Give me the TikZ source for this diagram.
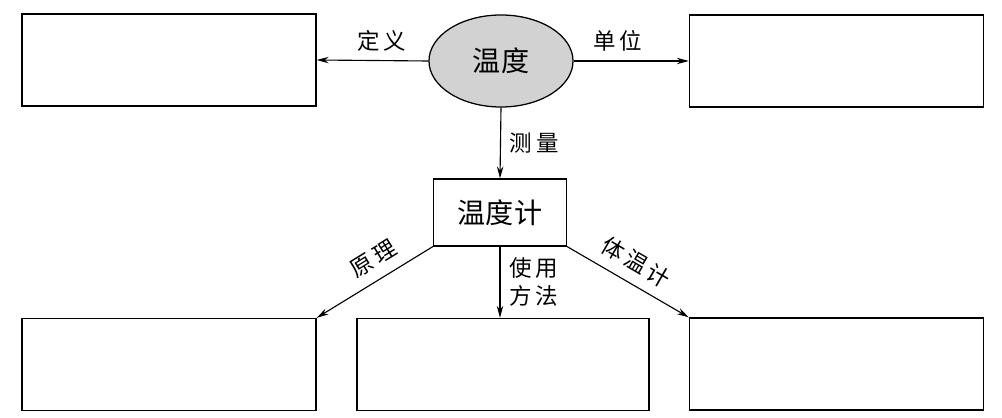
\documentclass[tikz,border=0pt]{standalone}
\usepackage{fontspec}
\setmainfont{Noto Sans CJK SC}
\usetikzlibrary{shapes.geometric,arrows.meta,positioning}

\begin{document}
\begin{tikzpicture}[x=0.025cm,y=-0.025cm,
	box/.style={draw,line width=0.9pt,minimum width=7.35cm,minimum height=2.3cm},
	oval/.style={ellipse,draw,line width=0.9pt,fill=gray!35,minimum width=3.6cm,minimum height=2.3cm,font=\fontsize{20}{20}\selectfont},
	arr/.style={line width=0.8pt,-{Stealth[length=3mm,width=1.6mm]}},
	lbl/.style={font=\fontsize{16}{20}\selectfont}]
				\useasboundingbox (0,0) rectangle (1002,418);
				\node[oval] (temp) at (501,61) {温度};
				\node[box] (defbox) at (169,60) {};
				\node[box] (unitbox) at (836.5,61) {};
				\node[draw,line width=0.9pt,minimum width=3.32cm,minimum height=1.67cm,font=\fontsize{20}{20}\selectfont] (meter) at (500,212.5) {温度计};
				\node[box] (prinbox) at (169,364.5) {};
				\node[box,minimum width=7.3cm] (usebox) at (503,364.5) {};
				\node[box] (bodybox) at (836.5,364) {};
				\draw[arr] (temp.west) -- (defbox.east) node[lbl,pos=0.42,above=3pt] {定\,义};
				\draw[arr] (temp.east) -- (unitbox.west) node[lbl,pos=0.38,above=3pt] {单\,位};
				\draw[arr] (temp.south) -- (meter.north) node[lbl,midway,right=3pt] {测\,量};
				\draw[arr] (meter.south west) -- (prinbox.north east) node[lbl,pos=0.42,sloped,above=4pt] {原\,理};
				\draw[arr] (meter.south) -- (meter.south |- usebox.north) node[lbl,midway,right=3pt,align=left] {使\,用\\方\,法};
				\draw[arr] (meter.south east) -- (bodybox.north west) node[lbl,pos=0.48,sloped,above=4pt] {体\,温\,计};
			\end{tikzpicture}
\end{document}
